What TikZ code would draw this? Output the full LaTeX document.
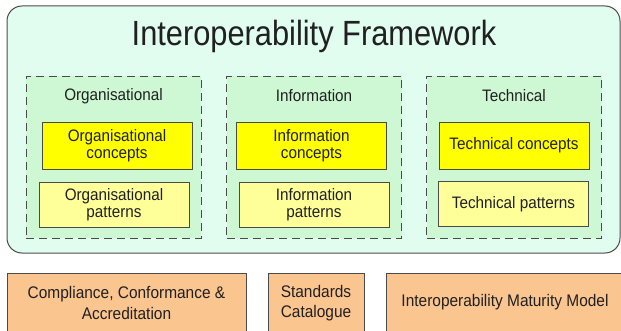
\documentclass[tikz,border=0pt]{standalone}
\usepackage{fontspec}
\setmainfont{Liberation Sans}[FakeStretch=0.92]
\newfontfamily\titlefont{Liberation Sans}[FakeStretch=0.88]
\usepackage{tikz}
\usetikzlibrary{positioning}

\definecolor{frameBg}{HTML}{E0FDF0}
\definecolor{layerBg}{HTML}{CEF8D4}
\definecolor{conceptY}{HTML}{FFFF00}
\definecolor{patternY}{HTML}{FFFF99}
\definecolor{supportO}{HTML}{FBC590}
\definecolor{lineGrey}{HTML}{4A4A4A}
\definecolor{textGrey}{HTML}{202020}

\tikzset{
  frame/.style={draw=lineGrey, fill=frameBg, line width=1pt, rounded corners=15pt},
  layer/.style={draw=lineGrey, fill=layerBg, line width=0.9pt, dash pattern=on 8pt off 5pt,
    minimum width=175pt, minimum height=162pt, inner sep=0pt},
  layertitle/.style={text=textGrey, font=\fontsize{16.6}{17}\selectfont},
  concept/.style={draw=lineGrey, fill=conceptY, line width=0.9pt, minimum width=150pt,
    minimum height=47pt, inner sep=0pt, align=center, text=textGrey,
    font=\fontsize{16.6}{16.5}\selectfont},
  pattern/.style={concept, fill=patternY, minimum height=45pt},
  support/.style={draw=lineGrey, fill=supportO, line width=0.9pt, minimum height=67pt,
    inner sep=0pt, align=center, text=textGrey, font=\fontsize{16.8}{20.5}\selectfont}
}

\begin{document}
\begin{tikzpicture}[x=1pt, y=-1pt]
  \useasboundingbox (0,0) rectangle (621,331);

  % framework
  \draw[frame] (7,6) rectangle (620,253);
  \node[text=textGrey, font=\titlefont\fontsize{35}{40}\selectfont] (title) at (314,36) {Interoperability Framework};

  % layers
  \node[layer] (org) at (113.5,157) {};
  \node[layer] (info) at (314,157) {};
  \node[layer] (tech) at (514,157) {};

  \node[layertitle] (orgT) at (113.5,96) {Organisational};
  \node[layertitle] (infoT) at (314,96) {Information};
  \node[layertitle] (techT) at (514,96) {Technical};

  \node[concept] (orgC) at (117,145.5) {Organisational\\concepts};
  \node[concept] (infoC) at (311.5,145.5) {Information\\concepts};
  \node[concept] (techC) at (514,145.5) {Technical concepts};

  \node[pattern] (orgP) at (114,204.5) {Organisational\\patterns};
  \node[pattern] (infoP) at (314,204.5) {Information\\patterns};
  \node[pattern] (techP) at (513.5,204) {Technical patterns};

  % supporting elements
  \node[support, minimum width=239pt] (cca) at (126.5,306.5) {};
  \node[text=textGrey, align=center, font=\fontsize{16.8}{20.5}\selectfont] (ccaT) at (126.5,303) {Compliance, Conformance \&\\Accreditation};
  \node[support, minimum width=96pt] (cat) at (316,306.5) {};
  \node[text=textGrey, align=center, font=\fontsize{16.8}{20.5}\selectfont] (catT) at (316,303) {Standards\\Catalogue};
  \node[support, minimum width=244pt, anchor=west] (imm) at (386,306.5) {};
  \node[text=textGrey, font=\fontsize{16.8}{20.5}\selectfont] (immT) at (505,302) {Interoperability Maturity Model};
\end{tikzpicture}
\end{document}
